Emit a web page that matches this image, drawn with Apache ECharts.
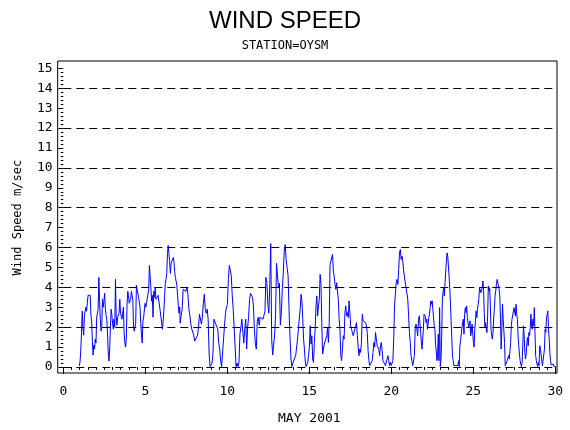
<!DOCTYPE html>
<html>
<head>
    <meta charset="utf-8">
    <script src="https://cdn.jsdelivr.net/npm/echarts@6/dist/echarts.min.js"></script>
    <style type="text/css">
        #main {height:430px;width:570px;position:absolute;}
        body {margin:0px;padding:0px;overflow:hidden;background:#fff;}
    </style>
</head>
<body>
    <div id="main"></div>
    <script type="text/javascript">
        // wind speed readings (m/sec) in four stretches
        // each stretch: first day, last day, values evenly spaced in between
        let span1 = [0.98, 7.10];
        let speed1 = [0.05,0.3,0.9,1.75,2.8,1.9,1.6,2.6,2.6,3.0, 2.8,3.2,3.6,3.7,3.5,3.6,2.6,2.3,1.3,0.6,
            1.1,0.9,1.4,1.2,2.5,2.6,2.9,4.5,3.3,2.4, 1.8,2.0,3.4,3.0,3.3,3.7,2.9,2.6,2.4,1.7,
            0.7,0.3,0.9,2.0,2.9,2.6,2.2,1.9,2.4,2.0, 4.4,2.6,2.1,2.5,2.6,2.7,3.4,2.7,2.7,2.4,
            2.4,3.0,1.7,1.2,1.0,1.4,3.1,3.8,3.6,3.2, 3.2,3.4,3.8,3.8,3.4,2.0,1.8,1.8,2.2,4.1,
            4.2,4.2,3.5,3.5,3.0,2.2,1.6,1.2,2.3,2.5, 2.6,3.2,3.0,3.2,3.1,3.2,3.9,5.1,5.2,4.0,
            3.3,3.6,2.5,3.8,3.5,4.0,3.4,3.5,3.5,3.6, 3.5,3.6,2.8,2.7,2.2,1.9,2.3,2.8,3.5,4.2,
            4.4,4.7,5.7,6.1,5.7,5.3,4.7,5.2,5.3,5.2, 5.5,5.3,4.8,4.5,4.4,4.1,3.6,3.1,2.7,3.0];

        let span2 = [7.13, 14.41];
        let speed2 = [2.2,2.6,2.9,3.9,3.8,3.9,3.8,4.0,3.65,2.9, 2.6,2.15,1.9,1.9,1.6,1.3,1.2,1.4,1.6,2.0,
            2.65,2.7,2.15,2.5,3.2,3.65,2.9,2.7,2.9,2.4, 0.65,0.02,0.02,0.2,0.65,2.4,2.4,2.15,2.2,1.9,
            1.2,0.9,0.3,0.02,0.07,0.02,2.1,2.7,3.0,3.15, 4.4,5.1,5.0,4.6,3.6,2.9,2.0,2.0,0.02,0.2,
            0.02,0.2,1.65,2.0,2.4,2.4,1.2,1.9,2.4,0.9, 2.0,2.5,3.4,3.7,3.65,3.5,3.1,1.9,1.2,0.9,
            2.3,2.5,2.1,2.5,2.6,2.5,2.4,2.6,2.8,4.5, 4.2,3.15,2.7,4.1,6.2,1.4,0.6,1.1,1.6,2.6,
            5.2,5.1,4.0,4.2,2.1,2.7,3.9,4.7,5.8,6.15, 5.4,5.0,4.6,2.9,1.5,0.4,0.02,0.2,0.15,0.3,
            0.6,0.65,1.5,1.4,1.6];

        let span3 = [14.45, 21.71];
        let speed3 = [2.98,3.65,3.3,2.4,1.4,0.9,0.3,0.02,0.02,0.23, 0.57,1.0,2.07,1.15,1.57,0.4,0.23,1.23,1.9,3.07,
            3.57,2.57,3.07,3.4,4.65,4.23,2.23,0.65,0.57,1.15, 1.15,1.23,1.57,1.98,1.23,2.23,5.15,5.32,5.48,5.65,
            4.82,4.57,4.15,3.9,4.23,4.32,3.4,2.4,1.9,0.57, 0.32,0.9,1.57,1.4,2.73,3.07,2.57,2.73,2.48,3.32,
            2.73,2.07,1.9,1.73,1.57,1.57,1.9,1.9,2.23,1.57, 1.0,0.57,0.9,0.73,1.23,2.65,2.32,2.23,2.32,2.23,
            2.07,1.73,0.82,0.32,0.07,0.02,0.07,0.32,0.73,1.23, 1.0,1.73,1.4,1.07,1.15,0.9,0.57,1.07,1.23,0.82,
            0.32,0.4,0.23,0.07,0.02,0.15,0.57,0.32,0.07,0.23, 0.07,0.15,0.32,1.4,3.07,3.65,4.23,4.4,4.15,4.9,
            5.73,5.9,5.4,5.57,5.32,4.82,4.73,4.23,3.98,3.9, 3.4,2.57,1.73,1.23,0.57,0.32,0.07,0.02,0.57,1.98,
            2.15,1.9,1.57,2.4,2.57];

        let span4 = [21.75, 30.04];
        let speed4 = [2.15,1.73,1.23,0.9,1.4,1.9,2.65,2.73,2.53,2.23, 2.4,1.9,2.15,2.48,2.65,2.98,3.32,3.15,3.32,2.9,
            2.98,2.07,1.9,1.15,0.82,0.32,0.57,1.65,0.32,2.98, 0.02,0.32,1.4,3.32,3.73,3.98,3.57,4.23,4.32,5.32,
            5.73,5.57,5.65,4.57,3.98,3.23,2.32,1.48,0.57,0.32, 0.07,0.1,0.02,0.07,0.02,0.15,0.07,0.32,0.02,1.07,
            1.32,1.23,1.98,2.23,2.4,1.65,2.65,2.98,2.73,3.07, 2.48,2.4,1.98,2.15,2.32,1.57,1.82,2.15,1.65,1.23,
            1.0,1.9,2.32,2.82,2.48,2.9,3.15,3.4,3.98,4.07, 3.73,3.73,3.98,4.32,3.82,2.73,1.98,2.23,1.9,1.73,
            2.57,4.07,3.82,3.98,3.07,1.9,1.57,1.4,1.73,2.48, 2.98,3.57,3.82,4.15,4.4,4.43,4.32,3.9,3.57,2.4,
            0.9,1.9,3.15,2.4,1.82,1.23,0.07,0.15,0.02,0.32, 0.23,0.57,0.4,0.82,1.23,2.07,2.4,2.4,2.48,2.98,
            2.9,2.57,3.15,2.65,2.4,1.57,1.07,0.65,0.32,0.15, 0.02,0.23,1.15,2.07,1.57,0.73,0.4,0.65,1.23,1.48,
            1.07,1.73,1.57,1.98,2.65,2.07,1.9,2.4,2.07,2.98, 1.73,0.57,0.32,0.15,0.02,0.23,0.07,1.07,0.9,0.65,
            0.73,0.07,0.02,0.15,0.9,1.9,1.73,2.48,2.65,2.82, 1.9,1.4,0.73,0.32,0.1,0.02,0.07,0.15,0.02,0.07,
            0.1,0.02];

        let gridLevels = [0, 2, 4, 6, 8, 10, 12, 14];

        function stretch(span, vals){
            let out = [];
            let step = (span[1] - span[0]) / (vals.length - 1);
            for(let i = 0; i < vals.length; i++){
                out.push([span[0] + i * step, vals[i]]);
            }
            return out;
        }

        let lineData = [].concat(
            stretch(span1, speed1), stretch(span2, speed2),
            stretch(span3, speed3), stretch(span4, speed4));

        let mono = 'DejaVu Sans Mono';
        let myChart = echarts.init(document.getElementById('main'));
        let option = {
            animation: false,
            title: {
                text: 'WIND SPEED',
                subtext: 'STATION=OYSM',
                left: 'center',
                top: 4,
                itemGap: 7,
                textStyle: {fontFamily: 'Liberation Sans', fontSize: 24, fontWeight: 'normal', color: '#000'},
                subtextStyle: {fontFamily: mono, fontSize: 12, color: '#000'}
            },
            grid: {left: 63.3, right: 14.7, top: 68.3, bottom: 61.7},
            xAxis: {
                type: 'value',
                min: 0,
                max: 30,
                interval: 5,
                offset: 5,
                name: 'MAY 2001',
                nameLocation: 'middle',
                nameGap: 40,
                nameTextStyle: {fontFamily: mono, fontSize: 13, color: '#000'},
                axisLine: {show: false},
                axisTick: {show: true, length: 7, lineStyle: {color: '#000'}},
                minorTick: {show: true, splitNumber: 10, length: 3, lineStyle: {color: '#000'}},
                axisLabel: {fontFamily: mono, fontSize: 13, color: '#000', margin: 13},
                splitLine: {show: false}
            },
            yAxis: {
                type: 'value',
                min: 0,
                max: 15,
                interval: 1,
                offset: 5.6,
                name: 'Wind Speed m/sec',
                nameLocation: 'middle',
                nameRotate: 90,
                nameGap: 34,
                nameTextStyle: {fontFamily: mono, fontSize: 12, color: '#000'},
                axisLine: {show: false},
                axisTick: {show: true, length: 5, lineStyle: {color: '#000'}},
                minorTick: {show: true, splitNumber: 5, length: 2.5, lineStyle: {color: '#000'}},
                axisLabel: {fontFamily: mono, fontSize: 13, color: '#000', margin: 5},
                splitLine: {show: false}
            },
            graphic: [{
                type: 'rect',
                shape: {x: 57.7, y: 61, width: 499.3, height: 312},
                style: {fill: null, stroke: '#000', lineWidth: 1},
                z: 10
            }],
            series: [{
                type: 'line',
                data: lineData,
                symbol: 'none',
                lineStyle: {color: '#0000ff', width: 1},
                markLine: {
                    silent: true,
                    symbol: 'none',
                    label: {show: false},
                    lineStyle: {color: '#000', type: [8, 5], width: 1},
                    data: gridLevels.map(function(v){ return {yAxis: v}; })
                }
            }]
        };
        myChart.setOption(option);
        window.onresize = myChart.resize;
    </script>
</body>
</html>
